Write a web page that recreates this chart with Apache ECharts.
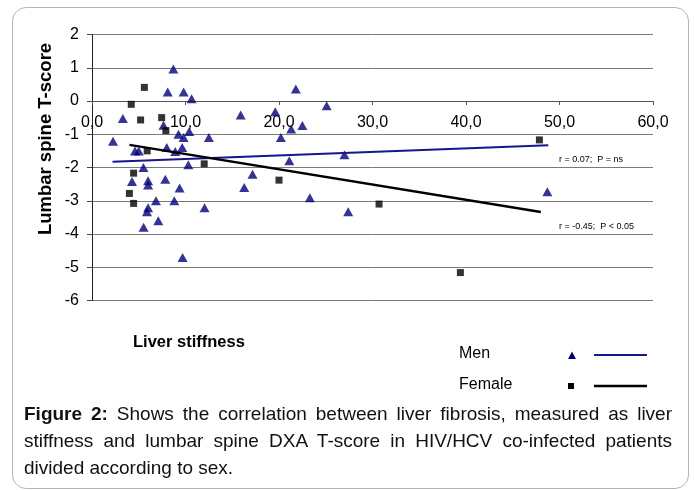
<!DOCTYPE html>
<html>
<head>
<meta charset="utf-8">
<script src="https://cdn.jsdelivr.net/npm/echarts@6/dist/echarts.min.js"></script>
<style>
  html, body { margin: 0; padding: 0; background: #fff; }
  #wrap { position: relative; width: 694px; height: 490px; overflow: hidden; }
  #chart { position: absolute; left: 0; top: 0; width: 694px; height: 490px; }
  #frame { position: absolute; left: 12px; top: 7px; width: 675px; height: 480px;
           border: 1.5px solid #b4b4b4; border-radius: 14px; pointer-events: none; }
  #caption { position: absolute; left: 24px; top: 400px; width: 648px;
             font-family: "Liberation Sans", Arial, sans-serif; font-size: 19px;
             line-height: 27px; text-align: justify; color: #111; }
  #caption b { font-weight: bold; }
</style>
</head>
<body>
<div id="wrap">
  <div id="chart"></div>
  <div id="frame"></div>
  <div id="caption"><b>Figure 2:</b> Shows the correlation between liver fibrosis, measured as liver stiffness and lumbar spine DXA T-score in HIV/HCV co-infected patients divided according to sex.</div>
</div>
<script>
// ---- data ----
const menX = [8.7, 8.1, 9.8, 10.65, 3.3, 15.9, 19.6, 7.65, 2.25, 9.25, 9.8, 10.4, 12.5, 4.6, 5.0, 8.0, 8.9, 9.65, 5.5, 10.3,
              20.2, 21.3, 22.5, 21.8, 25.1, 21.1, 27.0, 23.3, 27.4, 4.28, 6.0, 6.0, 7.84, 9.37, 6.84, 8.8, 6.0, 5.88, 12.04, 7.09,
              5.52, 9.69, 17.17, 16.28, 48.7];
const menY = [0.96, 0.27, 0.27, 0.07, -0.53, -0.42, -0.32, -0.73, -1.21, -1.0, -1.1, -0.92, -1.1, -1.5, -1.5, -1.4, -1.52, -1.4, -2.0, -1.92,
              -1.1, -0.84, -0.74, 0.36, -0.14, -1.8, -1.62, -2.91, -3.33, -2.42, -2.4, -2.53, -2.35, -2.62, -3.0, -3.0, -3.21, -3.33, -3.21, -3.6,
              -3.8, -4.71, -2.2, -2.6, -2.73];
const femaleX = [5.6, 4.2, 5.2, 7.45, 7.9, 5.9, 12.0, 4.45, 4.0, 4.45, 20.0, 30.7, 47.85, 39.4];
const femaleY = [0.41, -0.1, -0.57, -0.5, -0.89, -1.5, -1.89, -2.17, -2.78, -3.08, -2.38, -3.1, -1.17, -5.16];
const menTrendX = [2.2, 48.8];
const menTrendY = [-1.83, -1.33];
const femaleTrendX = [4.0, 48.0];
const femaleTrendY = [-1.32, -3.34];
const xTickLabels = ['0,0', '10,0', '20,0', '30,0', '40,0', '50,0', '60,0'];
const yTickLabels = ['-6', '-5', '-4', '-3', '-2', '-1', '0', '1', '2'];
const yAxisTitle = 'Lumbar spine T-score';
const xAxisTitle = 'Liver stiffness';
const seriesNames = ['Men', 'Female'];
const menStat = 'r = 0.07;  P = ns';
const femaleStat = 'r = -0.45;  P < 0.05';

const pairs = (xs, ys) => xs.map((x, i) => [x, ys[i]]);
const FONT = '"Liberation Sans", Arial, sans-serif';
const NAVY = '#000080';
const TREND_BLUE = '#16168e';

const GRID_TOP = 34.5, GRID_H = 266, Y_MIN = -6, Y_MAX = 2;
// x axis crosses the y axis at value 0: shift it up from the grid bottom
const zeroOffset = -GRID_H * (0 - Y_MIN) / (Y_MAX - Y_MIN);

const chart = echarts.init(document.getElementById('chart'), null, { renderer: 'canvas' });
chart.setOption({
  animation: false,
  backgroundColor: '#fff',
  grid: { left: 92, top: GRID_TOP, width: 561, height: GRID_H },
  xAxis: {
    type: 'value', min: 0, max: 60, interval: 10, position: 'bottom', offset: zeroOffset,
    axisLine: { onZero: false, lineStyle: { color: '#555', width: 1 } },
    axisTick: { show: true, length: 4, lineStyle: { color: '#555' } },
    axisLabel: {
      margin: 14, fontSize: 16, color: '#000', fontFamily: FONT,
      formatter: (v) => xTickLabels[Math.round(v / 10)]
    },
    splitLine: { show: false }
  },
  yAxis: {
    type: 'value', min: Y_MIN, max: Y_MAX, interval: 1,
    axisLine: { show: true, onZero: false, lineStyle: { color: '#222', width: 1 } },
    axisTick: { show: true, length: 5, lineStyle: { color: '#444' } },
    axisLabel: {
      margin: 13, fontSize: 16, color: '#000', fontFamily: FONT,
      formatter: (v) => yTickLabels[Math.round(v - Y_MIN)]
    },
    splitLine: { show: true, lineStyle: { color: '#7a7a7a', width: 1 } }
  },
  series: [
    { name: seriesNames[0], type: 'scatter', symbol: 'triangle', symbolSize: [10, 9],
      itemStyle: { color: NAVY }, data: pairs(menX, menY), z: 3 },
    { name: seriesNames[1], type: 'scatter', symbol: 'rect', symbolSize: 7,
      itemStyle: { color: '#000' }, data: pairs(femaleX, femaleY), z: 3 },
    { name: seriesNames[0] + ' trend', type: 'line', showSymbol: false, symbol: 'none',
      lineStyle: { color: TREND_BLUE, width: 2 }, data: pairs(menTrendX, menTrendY), z: 4 },
    { name: seriesNames[1] + ' trend', type: 'line', showSymbol: false, symbol: 'none',
      lineStyle: { color: '#000', width: 2.5 }, data: pairs(femaleTrendX, femaleTrendY), z: 4 }
  ],
  graphic: [
    { type: 'text', x: 46, y: 139, rotation: Math.PI / 2,
      style: { text: yAxisTitle, font: 'bold 18.5px ' + FONT, fill: '#000', textAlign: 'center', textVerticalAlign: 'middle' } },
    { type: 'text', x: 133, y: 342,
      style: { text: xAxisTitle, font: 'bold 16.5px ' + FONT, fill: '#000', textAlign: 'left', textVerticalAlign: 'middle' } },
    { type: 'text', x: 559, y: 159.5,
      style: { text: menStat, font: '9px ' + FONT, fill: '#000', textAlign: 'left', textVerticalAlign: 'middle' } },
    { type: 'text', x: 559, y: 227,
      style: { text: femaleStat, font: '9px ' + FONT, fill: '#000', textAlign: 'left', textVerticalAlign: 'middle' } },
    // legend
    { type: 'text', x: 459, y: 354,
      style: { text: seriesNames[0], font: '16px ' + FONT, fill: '#000', textAlign: 'left', textVerticalAlign: 'middle' } },
    { type: 'text', x: 459, y: 384.5,
      style: { text: seriesNames[1], font: '16px ' + FONT, fill: '#000', textAlign: 'left', textVerticalAlign: 'middle' } },
    { type: 'polygon', shape: { points: [[568, 359], [576, 359], [572, 351.5]] }, style: { fill: NAVY } },
    { type: 'rect', shape: { x: 568, y: 383, width: 6, height: 6 }, style: { fill: '#000' } },
    { type: 'line', shape: { x1: 594, y1: 355, x2: 647, y2: 355 }, style: { stroke: TREND_BLUE, lineWidth: 2 } },
    { type: 'line', shape: { x1: 594, y1: 386, x2: 647, y2: 386 }, style: { stroke: '#000', lineWidth: 2.5 } }
  ]
});
</script>
</body>
</html>
